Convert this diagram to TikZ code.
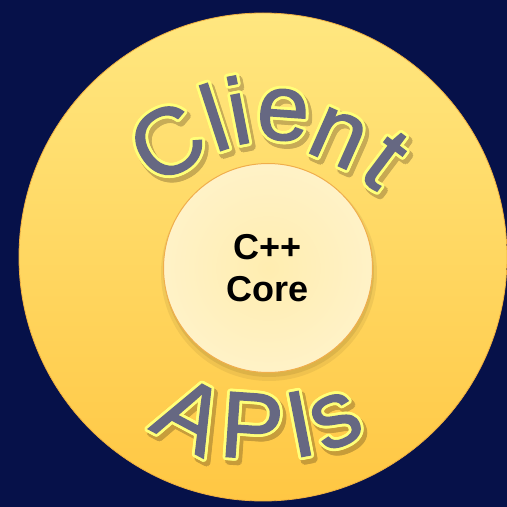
\documentclass[tikz,border=0pt]{standalone}
\usepackage{fontspec}
\newfontfamily\arcfill[FakeBold=1.5]{Liberation Sans}
\newfontfamily\corefont{Liberation Sans}
\usetikzlibrary{calc}
\definecolor{navy}{HTML}{061149}
\definecolor{outtop}{HTML}{FFE780}
\definecolor{outbot}{HTML}{FFC743}
\definecolor{outedge}{HTML}{F0B040}
\definecolor{innc}{HTML}{FFEDB0}
\definecolor{inno}{HTML}{FFF7DE}
\definecolor{innedge}{HTML}{F0AE4C}
\definecolor{lettfill}{HTML}{666882}
\definecolor{lettline}{HTML}{FFFF78}
\pgfdeclareradialshading{coreshade}{\pgfpoint{0bp}{0bp}}{color(0bp)=(innc); color(50bp)=(inno)}
\def\arcletters{cC/167/365/31/C, cl/214/390/18/l, ci/238/397/11/i, ce/283/392/-4/e, cn/338/369/-24/n, ct/385/347/-37/t,
  aA/191/92/-28/A, aP/252/81/-4/P, aI/300/83/11/I, as/336/86/24/s}
\begin{document}
\begin{tikzpicture}[x=1pt,y=1pt,
  lt/.style={inner sep=0pt, anchor=center, font=\arcfill\fontsize{94}{94}\selectfont},
  coretext/.style={align=center, inner sep=0pt, font=\corefont\bfseries\fontsize{36}{42}\selectfont, text=black}]
\useasboundingbox (0,0) rectangle (507,507);
\fill[navy] (0,0) rectangle (507,507);
\coordinate (oc) at (263,250);
\coordinate (ic) at (268,239);
% outer ring
\shade[top color=outtop, bottom color=outbot, draw=outedge, line width=0.8pt] (oc) circle[radius=244];
% inner circle shadow
\fill[black, opacity=0.06] ($(ic)+(1,-5)$) circle[radius=108];
\fill[black, opacity=0.08] ($(ic)+(1,-4)$) circle[radius=105];
% inner circle
\shade[shading=coreshade, draw=innedge, line width=1pt] (ic) circle[radius=104.5];
\node[coretext] (core) at (ic) {C++\\Core};
% arc letters: soft shadows
\begin{scope}[transparency group, opacity=0.28]
\foreach \nm/\px/\py/\rot/\ch in \arcletters {
  \foreach \ang in {0,30,...,330}
    \node[lt, text=black!70!brown, rotate=\rot] at ($(\px,\py)+(3,-4)+(\ang:3.4)$) {\ch};
}
\end{scope}
% outlines
\foreach \nm/\px/\py/\rot/\ch in \arcletters {
  \foreach \ang in {0,22.5,...,337.5}
    \node[lt, text=lettline, rotate=\rot] at ($(\px,\py)+(\ang:2.8)$) {\ch};
}
% fills
\foreach \nm/\px/\py/\rot/\ch in \arcletters {
  \node[lt, text=lettfill, rotate=\rot] (\nm) at (\px,\py) {\ch};
}
\end{tikzpicture}
\end{document}
